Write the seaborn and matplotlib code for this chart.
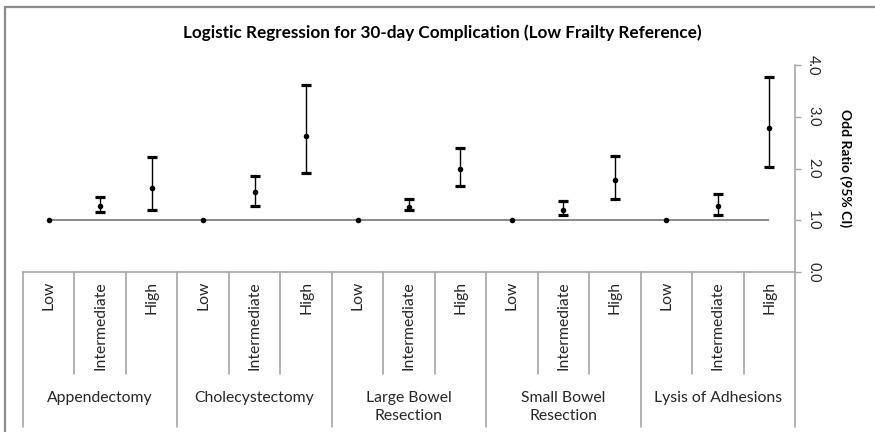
import numpy as np
import pandas as pd
import seaborn as sns
import matplotlib.pyplot as plt
from matplotlib.lines import Line2D
import matplotlib.transforms as mtransforms

# ---------------------------------------------------------------------
#   Dados
# ---------------------------------------------------------------------
procedimentos = ["Appendectomy", "Cholecystectomy", "Large Bowel\nResection",
                 "Small Bowel\nResection", "Lysis of Adhesions"]
fragilidade = ["Low", "Intermediate", "High"]

odds_ratio = [1.00, 1.28, 1.63,
              1.00, 1.55, 2.62,
              1.00, 1.26, 2.00,
              1.00, 1.20, 1.77,
              1.00, 1.28, 2.78]
ic_inferior = [1.00, 1.16, 1.20,
               1.00, 1.28, 1.92,
               1.00, 1.20, 1.67,
               1.00, 1.11, 1.42,
               1.00, 1.11, 2.02]
ic_superior = [1.00, 1.44, 2.23,
               1.00, 1.86, 3.61,
               1.00, 1.42, 2.39,
               1.00, 1.38, 2.25,
               1.00, 1.51, 3.77]

y_ticks = [0.0, 1.0, 2.0, 3.0, 4.0]

df = pd.DataFrame({
    "procedimento": np.repeat(procedimentos, len(fragilidade)),
    "fragilidade": fragilidade * len(procedimentos),
    "OR": odds_ratio,
    "lo": ic_inferior,
    "hi": ic_superior,
})
df["x"] = np.arange(len(df))

# ---------------------------------------------------------------------
#   Estilo
# ---------------------------------------------------------------------
sns.set_theme(style="white")
plt.rcParams["font.family"] = ["Lato", "DejaVu Sans"]

CINZA = "#A6A6A6"
TEXTO = "#262626"

fig = plt.figure(figsize=(8.75, 4.32), dpi=100)
W, H = 875, 432
ax = fig.add_axes([23 / W, 1 - 272 / H, 772 / W, 207 / H])

# linha de referência em OR = 1
ax.hlines(1.0, df["x"].min(), df["x"].max(), color="#808080", lw=1.3, zorder=1)

# intervalos de confiança (apenas Intermediate / High)
ic = df[df["fragilidade"] != "Low"]
ax.errorbar(ic["x"], ic["OR"],
            yerr=[ic["OR"] - ic["lo"], ic["hi"] - ic["OR"]],
            fmt="none", ecolor="black", elinewidth=1.0,
            capsize=3.3, capthick=2.3, zorder=2)

# pontos
sns.scatterplot(data=df, x="x", y="OR", color="black", s=16,
                edgecolor="black", linewidth=0, zorder=3, ax=ax, legend=False)

ax.set_xlim(-0.5, len(df) - 0.5)
ax.set_ylim(0, 4.0)
ax.set_xticks([])
ax.set_xlabel("")

# eixo Y à direita
ax.yaxis.tick_right()
ax.yaxis.set_label_position("right")
ax.set_yticks(y_ticks)
ax.set_yticklabels([f"{v:.1f}" for v in y_ticks], rotation=270,
                   va="center", ha="left", fontsize=10.5, color=TEXTO)
ax.tick_params(axis="y", which="major", right=True, length=4, width=1,
               color=CINZA, pad=4)
ax.set_ylabel("Odd Ratio (95% CI)", rotation=270, labelpad=23,
              fontsize=10, fontweight="bold", color="black")

for lado in ["left", "top"]:
    ax.spines[lado].set_visible(False)
for lado in ["right", "bottom"]:
    ax.spines[lado].set_color(CINZA)
    ax.spines[lado].set_linewidth(1.2)

# eixo de categorias em dois níveis
trans = mtransforms.blended_transform_factory(ax.transData, ax.transAxes)
px = 1 / 207  # um pixel em fração do eixo
n = len(fragilidade)
for i in range(len(df) + 1):
    xb = i - 0.5
    fundo = -155 * px if i % n == 0 else -102 * px
    ax.add_line(Line2D([xb, xb], [0, fundo], transform=trans, color=CINZA,
                       lw=1.2, clip_on=False))

for _, linha in df.iterrows():
    ax.text(linha["x"], -9 * px, linha["fragilidade"], transform=trans,
            rotation=90, ha="center", va="top", fontsize=11.3, color=TEXTO)

for g, nome in enumerate(procedimentos):
    xc = g * n + (n - 1) / 2
    ax.text(xc, -119 * px, nome, transform=trans, ha="center", va="top",
            fontsize=11.3, color=TEXTO, linespacing=1.4)

ax.set_title("Logistic Regression for 30-day Complication (Low Frailty Reference)",
             fontsize=12.3, fontweight="bold", color="black", x=(442 - 23) / 772,
             y=(272 - 33) / 207, va="center", pad=0)

# moldura do gráfico (parcialmente visível)
fig.add_artist(Line2D([5 / W, 1], [1 - 7 / H, 1 - 7 / H], color="#8C8C8C", lw=1.6))
fig.add_artist(Line2D([5 / W, 5 / W], [0, 1 - 7 / H], color="#8C8C8C", lw=1.6))

fig.savefig("out.png", dpi=100)
